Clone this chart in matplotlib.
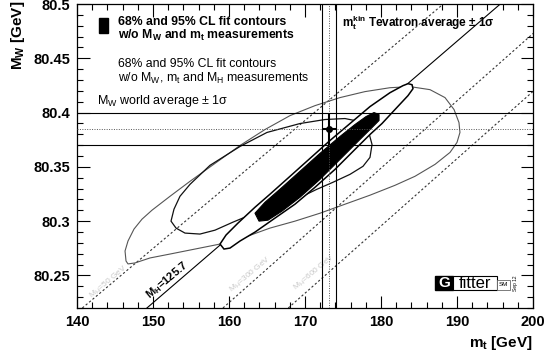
import numpy as np
import matplotlib
matplotlib.use('Agg')
import matplotlib.pyplot as plt
from matplotlib.patches import Rectangle
from matplotlib.ticker import MultipleLocator, FormatStrFormatter

plt.rcParams['font.family'] = ['Liberation Sans', 'DejaVu Sans']
plt.rcParams['mathtext.fontset'] = 'custom'
plt.rcParams['mathtext.rm'] = 'Liberation Sans'
plt.rcParams['mathtext.bf'] = 'Liberation Sans:bold'
plt.rcParams['mathtext.it'] = 'Liberation Sans:italic'

# measurements (world average MW, Tevatron mt)
mw_avg, mw_err = 80.385, 0.015
mt_avg, mt_err = 173.2, 0.9

# lines of constant MH: mt where they cross the bottom / top of the frame
mh_labels = ['50', '125.7', '300', '600']
mh_mt_bottom = [140.7, 149.2, 159.2, 167.8]
mh_mt_top = [188.2, 195.7, 204.4, 213.0]

# 95% CL w/o MW, mt, MH (outer thin contour)
mt_95_nomh = [146.45, 146.32, 146.71, 147.50, 148.55, 149.87, 152.24, 154.87, 158.16,
              161.45, 164.74, 168.03, 171.32, 174.61, 177.89, 181.18, 183.82, 186.45,
              188.42, 189.61, 190.26, 190.39, 190.00, 189.08, 187.11, 184.47, 181.84,
              178.55, 175.26, 171.97, 168.68, 165.39, 162.11, 158.82, 155.53, 152.24,
              149.61, 147.63, 146.71]
mw_95_nomh = [80.2633, 80.2725, 80.2817, 80.2927, 80.3018, 80.3101, 80.3229, 80.3367, 80.3532,
              80.3697, 80.3844, 80.3972, 80.4064, 80.4138, 80.4193, 80.4229, 80.4239, 80.4211,
              80.4138, 80.4028, 80.3908, 80.3817, 80.3725, 80.3633, 80.3523, 80.3413, 80.3330,
              80.3239, 80.3156, 80.3073, 80.3000, 80.2936, 80.2853, 80.2789, 80.2743, 80.2697,
              80.2661, 80.2615, 80.2606]

# 68% CL w/o MW, mt, MH
mt_68_nomh = [152.37, 152.76, 153.55, 154.87, 157.50, 161.45, 165.00, 169.34, 172.63,
              175.26, 177.24, 178.29, 178.82, 178.55, 177.63, 175.92, 173.68, 171.58,
              168.03, 164.74, 162.11, 160.53, 158.16, 156.18, 154.21, 153.03]
mw_68_nomh = [80.3000, 80.3110, 80.3229, 80.3339, 80.3514, 80.3688, 80.3817, 80.3899, 80.3936,
              80.3945, 80.3917, 80.3844, 80.3706, 80.3587, 80.3505, 80.3431, 80.3358, 80.3294,
              80.3174, 80.3092, 80.3037, 80.2991, 80.2917, 80.2881, 80.2890, 80.2936]

# 95% CL w/o MW, mt
mt_95 = [158.82, 159.61, 161.18, 163.42, 165.39, 168.03, 170.66, 173.29, 175.92, 178.55,
         181.18, 182.89, 183.55, 184.08, 184.21, 183.55, 181.84, 180.13, 178.55, 176.58,
         173.95, 171.32, 168.68, 166.05, 163.42, 161.45, 160.13, 159.34]
mw_95 = [80.2789, 80.2872, 80.2982, 80.3128, 80.3248, 80.3413, 80.3578, 80.3743, 80.3899, 80.4055,
         80.4183, 80.4248, 80.4266, 80.4257, 80.4220, 80.4156, 80.4028, 80.3899, 80.3798, 80.3661,
         80.3477, 80.3312, 80.3156, 80.3028, 80.2899, 80.2817, 80.2752, 80.2743]

# 68% CL w/o MW, mt
mt_68 = [163.42, 164.74, 166.71, 169.34, 171.97, 174.61, 176.58, 178.03, 179.08, 179.74,
         179.74, 178.82, 176.97, 174.61, 171.97, 169.34, 166.97, 165.13, 163.95]
mw_68 = [80.3073, 80.3174, 80.3294, 80.3459, 80.3624, 80.3780, 80.3890, 80.3963, 80.4000, 80.3982,
         80.3927, 80.3862, 80.3734, 80.3569, 80.3385, 80.3220, 80.3092, 80.3009, 80.3000]

xmin, xmax = 140, 200
ymin, ymax = 80.22, 80.5

fig = plt.figure(figsize=(5.45, 3.58), dpi=100)
ax = fig.add_axes([77/545, 50/358, 456/545, 304/358])

# constant MH lines
for lab, b, t in zip(mh_labels, mh_mt_bottom, mh_mt_top):
    if lab == '125.7':
        ax.plot([b, t], [ymin, ymax], color='black', lw=0.8, zorder=2)
    else:
        ax.plot([b, t], [ymin, ymax], color='#333333', lw=0.8, ls=(0, (2, 2)), zorder=2)

# fit contours without MH measurement
ax.fill(mt_95_nomh, mw_95_nomh, fc='none', ec='#555555', lw=0.8, zorder=3)
ax.fill(mt_68_nomh, mw_68_nomh, fc='none', ec='#111111', lw=0.9, zorder=3)

# fit contours with MH
ax.fill(mt_95, mw_95, fc='white', ec='black', lw=1.1, zorder=4)
ax.fill(mt_68, mw_68, fc='black', ec='black', lw=0.8, zorder=5)

# MW band
for y in (mw_avg - mw_err, mw_avg + mw_err):
    ax.axhline(y, color='black', lw=0.8, zorder=6)
ax.axhline(mw_avg, color='#555555', lw=0.7, ls=(0, (1, 1.5)), zorder=6)
# mt band
for x in (mt_avg - mt_err, mt_avg + mt_err):
    ax.axvline(x, color='black', lw=0.8, zorder=6)
ax.axvline(mt_avg, color='#555555', lw=0.7, ls=(0, (1, 1.5)), zorder=6)

# measurement point
ax.errorbar([mt_avg], [mw_avg], xerr=[mt_err], yerr=[mw_err], fmt='o', color='black',
            ms=4, elinewidth=1.5, capsize=0, zorder=7)

# MH line labels
ax.text(151.8, 80.246, r'$\mathbf{M_H}$=125.7', rotation=40, rotation_mode='anchor',
        ha='center', va='center', fontsize=8, fontweight='bold', zorder=8)
faint = [('50', 144.1, 80.244), ('300', 162.8, 80.251), ('600', 171.3, 80.253)]
for lab, x, y in faint:
    ax.text(x, y, r'$\mathrm{M_H}$=%s GeV' % lab, rotation=40, rotation_mode='anchor',
            ha='center', va='center', fontsize=6, color='#c8c8c8', zorder=1)

# legend (ROOT style)
def ax_x(px):
    return (px - 77) / 456.0

def ax_y(py):
    return (308 - py) / 304.0

ax.add_patch(Rectangle((ax_x(99), ax_y(33)), 9/456, 15/304, transform=ax.transAxes,
                       fc='black', ec='black', zorder=9))
ax.text(ax_x(118), ax_y(25), '68% and 95% CL fit contours', transform=ax.transAxes,
        fontsize=8.8, fontweight='bold', va='baseline', zorder=9)
ax.text(ax_x(118), ax_y(38.5), r'w/o $\mathbf{M_W}$ and $\mathbf{m_t}$ measurements',
        transform=ax.transAxes, fontsize=8.8, fontweight='bold', va='baseline', zorder=9)
ax.text(ax_x(118), ax_y(67), '68% and 95% CL fit contours', transform=ax.transAxes,
        fontsize=8.8, va='baseline', zorder=9)
ax.text(ax_x(118), ax_y(81.5), r'w/o $\mathrm{M_W}$, $\mathrm{m_t}$ and $\mathrm{M_H}$ measurements',
        transform=ax.transAxes, fontsize=8.8, va='baseline', zorder=9)
ax.text(ax_x(97), ax_y(104), r'$\mathrm{M_W}$ world average ± 1σ',
        transform=ax.transAxes, fontsize=9, va='baseline', zorder=9)
ax.text(ax_x(342), ax_y(26), r'$\mathbf{m_t^{kin}}$ Tevatron average ± 1σ',
        transform=ax.transAxes, fontsize=8.5, fontweight='bold', va='baseline', zorder=9)

# Gfitter logo
ax.add_patch(Rectangle((ax_x(435), ax_y(290)), 18/456, 14/304, transform=ax.transAxes,
                       fc='black', ec='black', zorder=9))
ax.text(ax_x(444), ax_y(283), 'G', transform=ax.transAxes, color='white', fontsize=11,
        fontweight='bold', ha='center', va='center', zorder=10)
ax.add_patch(Rectangle((ax_x(453), ax_y(290)), 44/456, 14/304, transform=ax.transAxes,
                       fc='white', ec='black', lw=0.8, zorder=9))
ax.text(ax_x(475), ax_y(283.5), 'fitter', transform=ax.transAxes, fontsize=12,
        ha='center', va='center', zorder=10)
ax.add_patch(Rectangle((ax_x(497), ax_y(290)), 13/456, 10/304, transform=ax.transAxes,
                       fc='white', ec='#666666', lw=0.6, zorder=9))
ax.text(ax_x(503.5), ax_y(285), 'SM', transform=ax.transAxes, fontsize=4.5,
        ha='center', va='center', zorder=10)
ax.text(ax_x(515), ax_y(283), 'Sep 12', transform=ax.transAxes, fontsize=3.5,
        rotation=90, ha='center', va='center', zorder=10)

ax.set_xlim(xmin, xmax)
ax.set_ylim(ymin, ymax)
ax.xaxis.set_major_locator(MultipleLocator(10))
ax.xaxis.set_minor_locator(MultipleLocator(2))
ax.yaxis.set_major_locator(MultipleLocator(0.05))
ax.yaxis.set_minor_locator(MultipleLocator(0.01))
ax.yaxis.set_major_formatter(FormatStrFormatter('%g'))
ax.xaxis.set_major_formatter(FormatStrFormatter('%d'))
ax.tick_params(which='both', direction='in', top=True, right=True, width=0.8)
ax.tick_params(which='major', length=9, labelsize=10.5, pad=5)
ax.tick_params(which='minor', length=4.5)
for lab in ax.get_xticklabels() + ax.get_yticklabels():
    lab.set_fontweight('bold')
for s in ax.spines.values():
    s.set_linewidth(0.9)

fig.text(18/545, 1 - 1/358, r'$\mathbf{M_W}$ [GeV]', rotation=90, ha='center', va='top',
         fontsize=11, fontweight='bold')
fig.text(533/545, 1 - 347/358, r'$\mathbf{m_t}$ [GeV]', ha='right', va='baseline',
         fontsize=11, fontweight='bold')

fig.savefig('out.png', dpi=100)
